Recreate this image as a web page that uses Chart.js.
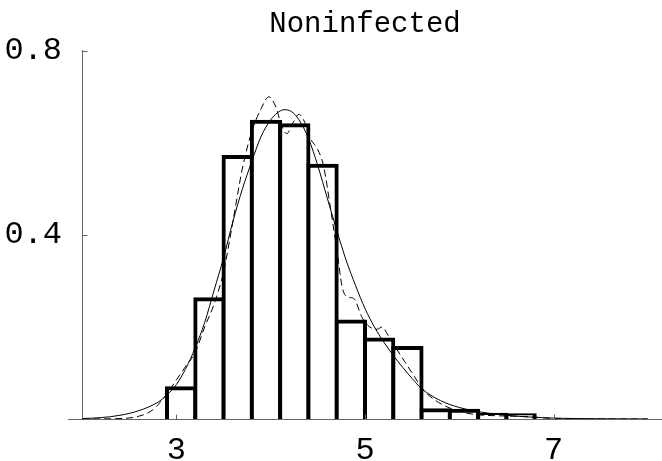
<!DOCTYPE html>
<html>
<head>
<meta charset="utf-8">
<script src="https://cdn.jsdelivr.net/npm/chart.js@4/dist/chart.umd.min.js"></script>
<style>
html, body { margin: 0; padding: 0; background: #ffffff; }
#c { display: block; }
</style>
</head>
<body>
<canvas id="c" width="662" height="461"></canvas>
<script>
// ---------- data ----------
const chartTitle = 'Noninfected';

// histogram bins (centre of each 0.3-wide bin) and heights
const binCenters = [3.05, 3.35, 3.65, 3.95, 4.25, 4.55, 4.85, 5.15, 5.45, 5.75, 6.05, 6.35, 6.65];
const binHeights = [0.067, 0.260, 0.569, 0.646, 0.638, 0.550, 0.212, 0.173, 0.154, 0.019, 0.018, 0.009, 0.008];

// solid fitted density curve
const fitX = [2.0, 2.2, 2.4, 2.6, 2.8, 2.9, 3.0, 3.1, 3.2, 3.3, 3.4, 3.5, 3.6, 3.7, 3.8, 3.9, 4.0, 4.07, 4.14, 4.22, 4.3, 4.4, 4.5, 4.6, 4.7, 4.8, 4.9, 5.0, 5.1, 5.2, 5.3, 5.4, 5.5, 5.6, 5.8, 6.0, 6.2, 6.5, 7.0, 7.5, 8.0];
const fitY = [0.001, 0.003, 0.008, 0.018, 0.036, 0.052, 0.075, 0.11, 0.155, 0.21, 0.28, 0.35, 0.43, 0.5, 0.56, 0.615, 0.65, 0.665, 0.672, 0.668, 0.65, 0.61, 0.55, 0.48, 0.41, 0.345, 0.29, 0.24, 0.2, 0.167, 0.138, 0.112, 0.088, 0.066, 0.04, 0.025, 0.016, 0.008, 0.002, 0.0005, 0];

// dashed kernel density curve
const kdeX = [2.0, 2.4, 2.6, 2.75, 2.9, 3.0, 3.1, 3.2, 3.3, 3.4, 3.5, 3.6, 3.7, 3.8, 3.9, 3.98, 4.05, 4.12, 4.17, 4.24, 4.3, 4.36, 4.42, 4.5, 4.56, 4.64, 4.7, 4.76, 4.82, 4.88, 4.97, 5.05, 5.13, 5.18, 5.25, 5.32, 5.42, 5.5, 5.62, 5.75, 5.92, 6.05, 6.21, 6.4, 6.6, 6.8, 7.0, 7.5, 8.0];
const kdeY = [0, 0.001, 0.006, 0.02, 0.055, 0.085, 0.115, 0.145, 0.2, 0.25, 0.32, 0.43, 0.545, 0.625, 0.675, 0.70, 0.68, 0.635, 0.62, 0.645, 0.662, 0.645, 0.61, 0.585, 0.55, 0.45, 0.37, 0.285, 0.265, 0.262, 0.22, 0.2, 0.195, 0.2, 0.18, 0.157, 0.125, 0.1, 0.063, 0.04, 0.022, 0.014, 0.009, 0.007, 0.006, 0.004, 0.001, 0, 0];

// axes
const xTickValues = [3, 5, 7];
const yTickValues = [0.4, 0.8];
const xRange = [1.85, 8.15];
const yRange = [0, 0.8];
const yAxisCrossing = 2;

// ---------- chart ----------
const toPoints = (xs, ys) => xs.map((v, i) => ({ x: v, y: ys[i] }));
const axisColor = '#666666';
const monoFont = "'Liberation Mono', 'DejaVu Sans Mono', monospace";

const innerTicks = {
  id: 'innerTicks',
  afterDraw(chart) {
    const { ctx } = chart;
    const xs = chart.scales.x, ys = chart.scales.y;
    ctx.save();
    ctx.strokeStyle = axisColor;
    ctx.lineWidth = 1;
    ctx.beginPath();
    const base = Math.round(ys.getPixelForValue(0)) + 0.5;
    xTickValues.forEach(v => {
      const px = Math.round(xs.getPixelForValue(v)) + 0.5;
      ctx.moveTo(px, base);
      ctx.lineTo(px, base - 5);
    });
    const ax = Math.round(xs.getPixelForValue(yAxisCrossing)) + 0.5;
    yTickValues.forEach(v => {
      const py = Math.round(ys.getPixelForValue(v)) + 0.5;
      ctx.moveTo(ax, py);
      ctx.lineTo(ax + 5, py);
    });
    ctx.stroke();
    ctx.restore();
  }
};

const tickFont = { family: monoFont, size: 32 };

new Chart(document.getElementById('c'), {
  type: 'bar',
  data: {
    datasets: [
      {
        type: 'line',
        data: toPoints(fitX, fitY),
        borderColor: '#000000',
        borderWidth: 1,
        pointRadius: 0,
        cubicInterpolationMode: 'monotone',
        fill: false,
        order: 0
      },
      {
        type: 'line',
        data: toPoints(kdeX, kdeY),
        borderColor: '#000000',
        borderWidth: 1,
        borderDash: [7, 4],
        pointRadius: 0,
        cubicInterpolationMode: 'monotone',
        fill: false,
        order: 0
      },
      {
        type: 'bar',
        data: toPoints(binCenters, binHeights),
        backgroundColor: '#ffffff',
        borderColor: '#000000',
        borderWidth: 4,
        inflateAmount: 2,
        borderSkipped: 'start',
        barPercentage: 1,
        categoryPercentage: 1,
        order: 1
      }
    ]
  },
  options: {
    responsive: false,
    animation: false,
    devicePixelRatio: 1,
    layout: { padding: { left: 0, right: 0, top: 0, bottom: 0 } },
    plugins: {
      legend: { display: false },
      tooltip: { enabled: false },
      title: {
        display: true,
        fullSize: false,
        text: chartTitle,
        color: '#000000',
        font: { family: monoFont, size: 29, weight: 'normal' },
        padding: { top: 7, bottom: 9 }
      }
    },
    scales: {
      x: {
        type: 'linear',
        min: xRange[0],
        max: xRange[1],
        offset: false,
        z: 1,
        grid: { display: false, drawTicks: false },
        border: { display: true, color: axisColor, width: 1 },
        afterBuildTicks: s => { s.ticks = xTickValues.map(v => ({ value: v })); },
        afterFit: s => { s.height = 42; },
        ticks: {
          color: '#000000',
          font: tickFont,
          padding: 12,
          maxRotation: 0,
          autoSkip: false,
          callback: v => String(v)
        }
      },
      y: {
        type: 'linear',
        min: yRange[0],
        max: yRange[1],
        position: { x: yAxisCrossing },
        z: 1,
        grid: { display: false, drawTicks: false },
        border: { display: true, color: axisColor, width: 1 },
        afterBuildTicks: s => { s.ticks = yTickValues.map(v => ({ value: v })); },
        ticks: { display: false, padding: 0 }
      },
      yLabels: {
        type: 'linear',
        min: yRange[0],
        max: yRange[1],
        position: 'left',
        grid: { display: false, drawTicks: false },
        border: { display: false },
        afterBuildTicks: s => { s.ticks = yTickValues.map(v => ({ value: v })); },
        afterFit: s => { s.width = 68; },
        ticks: {
          color: '#000000',
          font: tickFont,
          padding: 6,
          autoSkip: false,
          callback: v => Number(v).toFixed(1)
        }
      }
    }
  },
  plugins: [innerTicks]
});
</script>
</body>
</html>
